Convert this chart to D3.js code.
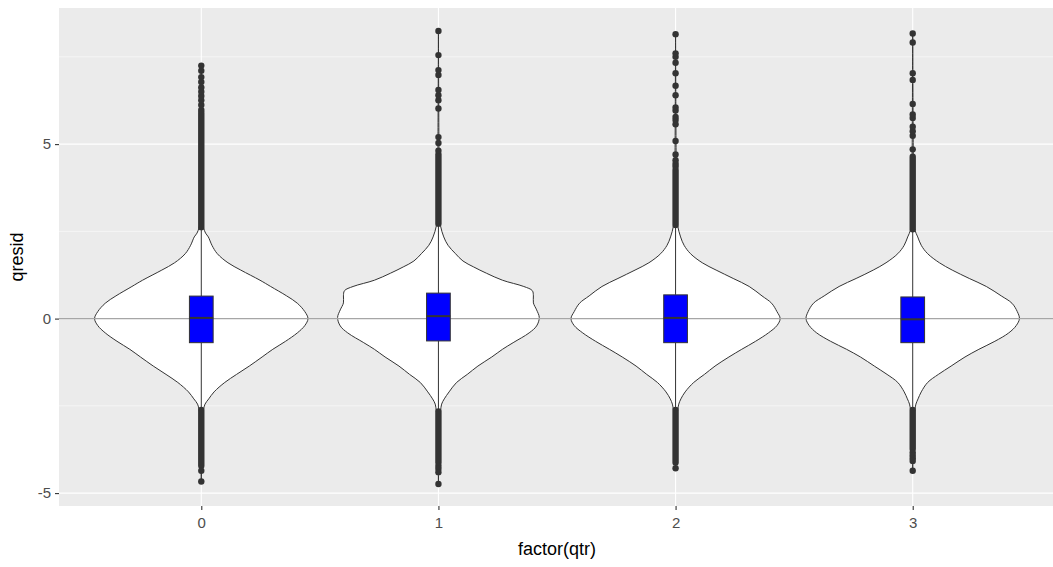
<!DOCTYPE html>
<html>
<head>
<meta charset="utf-8">
<script src="https://cdn.jsdelivr.net/npm/d3@7"></script>
<style>
  body { margin: 0; background: #ffffff; }
  svg { display: block; font-family: "Liberation Sans", Arial, sans-serif; }
</style>
</head>
<body>
<svg id="chart"></svg>
<script>
const TOTAL_WIDTH = 1053;
const TOTAL_HEIGHT = 567;

// panel edges (the right edge runs a little past the picture)
const PANEL_LEFT = 59;
const PANEL_RIGHT = 1055;
const PANEL_TOP = 8;
const PANEL_BOTTOM = 506;

const POINT_RADIUS = 3.2;
const INK = "#333333";

// ---- data ----
const categories = ["0", "1", "2", "3"];

const yMajorTicks = [-5, 0, 5];
const yMinorTicks = [-2.5, 2.5, 7.5];

const boxQ1 = [-0.69, -0.64, -0.69, -0.69];
const boxMedian = [0.02, 0.07, 0.02, -0.02];
const boxQ3 = [0.645, 0.73, 0.68, 0.62];
const whiskerLow = [-2.62, -2.64, -2.62, -2.62];
const whiskerHigh = [2.62, 2.7, 2.66, 2.54];

// stretches where the outliers overlap into a solid bar [from, to]
const outlierRuns = [
  [[2.62, 5.9], [-2.62, -4.22]],
  [[2.72, 4.7], [-2.66, -4.12]],
  [[2.68, 4.26], [-2.62, -4.12]],
  [[2.56, 4.64], [-2.62, -3.74]],
];

// single outliers
const outlierPoints = [
  [5.98, 6.12, 6.26, 6.38, 6.5, 6.62, 6.78, 6.92, 7.1, 7.25, -4.36, -4.67],
  [4.81, 5.03, 5.2, 6.02, 6.26, 6.4, 6.55, 6.98, 7.12, 7.55, 8.24, -4.22, -4.3, -4.4, -4.74],
  [4.36, 4.44, 4.54, 4.7, 5.09, 5.57, 5.69, 5.78, 5.96, 6.05, 6.4, 6.67, 7.03, 7.33, 7.5, 7.6, 8.15, -4.29],
  [4.85, 5.24, 5.37, 5.5, 5.75, 5.85, 6.15, 6.84, 7.03, 7.91, 8.17, -3.84, -3.92, -4.0, -4.08, -4.36],
];

// violin outlines: [qresid, relative half width]
const violin0 = [
  [7.25, 0], [2.9, 0.004], [2.62, 0.02], [2.45, 0.04], [2.34, 0.066], [2.1, 0.1],
  [1.86, 0.15], [1.6, 0.25], [1.39, 0.37], [1.1, 0.55], [0.92, 0.65], [0.65, 0.8],
  [0.44, 0.9], [0.2, 0.97], [0, 1.0], [-0.2, 0.97], [-0.41, 0.9], [-0.65, 0.79],
  [-0.88, 0.67], [-1.1, 0.57], [-1.36, 0.45], [-1.6, 0.33], [-1.83, 0.22], [-2.1, 0.12],
  [-2.3, 0.07], [-2.45, 0.035], [-2.62, 0.02], [-2.9, 0.004], [-4.67, 0],
];
const violin1 = [
  [8.24, 0], [4.8, 0.005], [2.9, 0.01], [2.65, 0.02], [2.34, 0.05], [2.1, 0.09],
  [1.86, 0.16], [1.65, 0.23], [1.48, 0.33], [1.3, 0.45], [1.1, 0.6], [0.92, 0.8],
  [0.8, 0.88], [0.65, 0.89], [0.45, 0.89], [0.25, 0.92], [0.03, 0.945], [-0.21, 0.92],
  [-0.41, 0.85], [-0.69, 0.7], [-0.88, 0.6], [-1.1, 0.5], [-1.36, 0.37], [-1.6, 0.27],
  [-1.83, 0.17], [-2.1, 0.1], [-2.3, 0.055], [-2.45, 0.03], [-2.64, 0.02], [-2.9, 0.005], [-4.74, 0],
];
const violin2 = [
  [8.15, 0], [4.7, 0.005], [2.9, 0.01], [2.65, 0.02], [2.34, 0.047], [2.1, 0.08],
  [1.86, 0.14], [1.6, 0.25], [1.39, 0.38], [1.15, 0.54], [0.92, 0.69], [0.65, 0.81],
  [0.44, 0.9], [0.2, 0.95], [0, 0.98], [-0.2, 0.95], [-0.41, 0.87], [-0.65, 0.75],
  [-0.88, 0.62], [-1.1, 0.5], [-1.36, 0.37], [-1.6, 0.27], [-1.83, 0.17], [-2.1, 0.09],
  [-2.3, 0.05], [-2.45, 0.03], [-2.62, 0.02], [-2.9, 0.004], [-4.29, 0],
];
const violin3 = [
  [8.17, 0], [4.85, 0.005], [2.75, 0.01], [2.54, 0.02], [2.34, 0.047], [2.1, 0.08],
  [1.86, 0.14], [1.6, 0.25], [1.39, 0.37], [1.15, 0.53], [0.92, 0.69], [0.65, 0.83],
  [0.44, 0.93], [0.2, 0.98], [0, 1.0], [-0.2, 0.97], [-0.41, 0.9], [-0.65, 0.77],
  [-0.88, 0.62], [-1.1, 0.49], [-1.36, 0.36], [-1.6, 0.24], [-1.83, 0.14], [-2.1, 0.08],
  [-2.3, 0.05], [-2.45, 0.03], [-2.62, 0.02], [-2.9, 0.004], [-4.36, 0],
];
const violins = [violin0, violin1, violin2, violin3];

// ---- chart ----
const svg = d3
  .select("#chart")
  .attr("width", TOTAL_WIDTH)
  .attr("height", TOTAL_HEIGHT);

const xScale = d3
  .scalePoint()
  .domain(categories)
  .range([PANEL_LEFT, PANEL_RIGHT])
  .padding(0.6);

const yScale = d3
  .scaleLinear()
  .domain([-5.37, 8.9])
  .range([PANEL_BOTTOM, PANEL_TOP]);

const widthScale = d3
  .scaleLinear()
  .domain([0, 1])
  .range([0, xScale.step() * 0.45]);

const boxHalf = xScale.step() * 0.05;

// panel background
svg
  .append("rect")
  .attr("x", PANEL_LEFT)
  .attr("y", PANEL_TOP)
  .attr("width", PANEL_RIGHT - PANEL_LEFT)
  .attr("height", PANEL_BOTTOM - PANEL_TOP)
  .attr("fill", "#EBEBEB");

// grid
svg
  .selectAll(".minor-grid")
  .data(yMinorTicks)
  .join("line")
  .classed("minor-grid", true)
  .attr("x1", PANEL_LEFT)
  .attr("x2", PANEL_RIGHT)
  .attr("y1", (d) => yScale(d))
  .attr("y2", (d) => yScale(d))
  .attr("stroke", "#ffffff")
  .attr("stroke-width", 0.55);

svg
  .selectAll(".major-grid")
  .data(yMajorTicks)
  .join("line")
  .classed("major-grid", true)
  .attr("x1", PANEL_LEFT)
  .attr("x2", PANEL_RIGHT)
  .attr("y1", (d) => yScale(d))
  .attr("y2", (d) => yScale(d))
  .attr("stroke", "#ffffff")
  .attr("stroke-width", 1.1);

svg
  .selectAll(".x-grid")
  .data(categories)
  .join("line")
  .classed("x-grid", true)
  .attr("x1", (d) => xScale(d))
  .attr("x2", (d) => xScale(d))
  .attr("y1", PANEL_TOP)
  .attr("y2", PANEL_BOTTOM)
  .attr("stroke", "#ffffff")
  .attr("stroke-width", 1.1);

// violins
svg
  .selectAll(".violin")
  .data(violins)
  .join("path")
  .classed("violin", true)
  .attr("d", (profile, i) => {
    const cx = xScale(categories[i]);
    return d3
      .area()
      .curve(d3.curveCatmullRom.alpha(0.5))
      .y((d) => yScale(d[0]))
      .x0((d) => cx - widthScale(d[1]))
      .x1((d) => cx + widthScale(d[1]))(profile);
  })
  .attr("fill", "#ffffff")
  .attr("stroke", INK)
  .attr("stroke-width", 1);

// reference line at zero
svg
  .append("line")
  .attr("x1", PANEL_LEFT)
  .attr("x2", PANEL_RIGHT)
  .attr("y1", yScale(0))
  .attr("y2", yScale(0))
  .attr("stroke", "#A6A6A6")
  .attr("stroke-width", 1.1);

// boxplots
const boxes = svg
  .selectAll(".box")
  .data(categories)
  .join("g")
  .classed("box", true);

boxes
  .append("line")
  .attr("x1", (d) => xScale(d))
  .attr("x2", (d) => xScale(d))
  .attr("y1", (d, i) => yScale(whiskerHigh[i]))
  .attr("y2", (d, i) => yScale(boxQ3[i]))
  .attr("stroke", INK)
  .attr("stroke-width", 1);

boxes
  .append("line")
  .attr("x1", (d) => xScale(d))
  .attr("x2", (d) => xScale(d))
  .attr("y1", (d, i) => yScale(boxQ1[i]))
  .attr("y2", (d, i) => yScale(whiskerLow[i]))
  .attr("stroke", INK)
  .attr("stroke-width", 1);

boxes
  .append("rect")
  .attr("x", (d) => xScale(d) - boxHalf)
  .attr("y", (d, i) => yScale(boxQ3[i]))
  .attr("width", boxHalf * 2)
  .attr("height", (d, i) => yScale(boxQ1[i]) - yScale(boxQ3[i]))
  .attr("fill", "#0000FF")
  .attr("stroke", INK)
  .attr("stroke-width", 1);

boxes
  .append("line")
  .attr("x1", (d) => xScale(d) - boxHalf)
  .attr("x2", (d) => xScale(d) + boxHalf)
  .attr("y1", (d, i) => yScale(boxMedian[i]))
  .attr("y2", (d, i) => yScale(boxMedian[i]))
  .attr("stroke", INK)
  .attr("stroke-width", 2);

// outliers: overlapping runs as solid bars, then single points
boxes
  .selectAll(".run")
  .data((d, i) => outlierRuns[i].map((r) => ({ cat: d, r })))
  .join("line")
  .classed("run", true)
  .attr("x1", (d) => xScale(d.cat))
  .attr("x2", (d) => xScale(d.cat))
  .attr("y1", (d) => yScale(d.r[0]))
  .attr("y2", (d) => yScale(d.r[1]))
  .attr("stroke", INK)
  .attr("stroke-width", POINT_RADIUS * 2)
  .attr("stroke-linecap", "round");

boxes
  .selectAll(".outlier")
  .data((d, i) => outlierPoints[i].map((v) => ({ cat: d, v })))
  .join("circle")
  .classed("outlier", true)
  .attr("cx", (d) => xScale(d.cat))
  .attr("cy", (d) => yScale(d.v))
  .attr("r", POINT_RADIUS)
  .attr("fill", INK);

// axes
const xAxis = d3.axisBottom(xScale).tickSize(4).tickPadding(7);
const yAxis = d3
  .axisLeft(yScale)
  .tickValues(yMajorTicks)
  .tickSize(4)
  .tickPadding(4)
  .tickFormat((d) => String(d));

const xAxisG = svg
  .append("g")
  .attr("transform", `translate(0, ${PANEL_BOTTOM})`)
  .call(xAxis);
const yAxisG = svg
  .append("g")
  .attr("transform", `translate(${PANEL_LEFT}, 0)`)
  .call(yAxis);

[xAxisG, yAxisG].forEach((g) => {
  g.select(".domain").remove();
  g.selectAll(".tick line").attr("stroke", INK).attr("stroke-width", 1.1);
  g.selectAll(".tick text")
    .attr("fill", "#4D4D4D")
    .style("font-size", "15px")
    .style("font-family", '"Liberation Sans", Arial, sans-serif');
});

// axis titles
svg
  .append("text")
  .attr("x", (PANEL_LEFT + PANEL_RIGHT) / 2)
  .attr("y", 555)
  .attr("text-anchor", "middle")
  .attr("fill", "#000000")
  .style("font-size", "18px")
  .text("factor(qtr)");

svg
  .append("text")
  .attr("transform", `translate(23, ${(PANEL_TOP + PANEL_BOTTOM) / 2}) rotate(-90)`)
  .attr("text-anchor", "middle")
  .attr("fill", "#000000")
  .style("font-size", "18px")
  .text("qresid");
</script>
</body>
</html>
